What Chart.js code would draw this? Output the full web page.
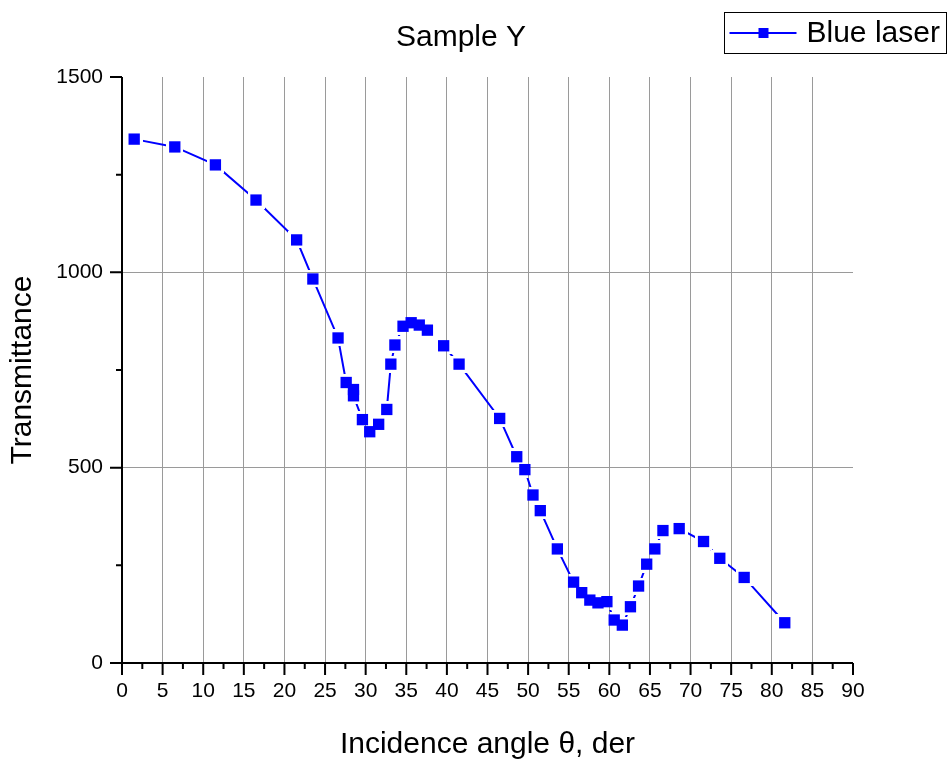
<!DOCTYPE html>
<html>
<head>
<meta charset="utf-8">
<title>Sample Y</title>
<script src="https://cdn.jsdelivr.net/npm/chart.js@4.4.1/dist/chart.umd.min.js"></script>
<style>
    html, body { margin: 0; padding: 0; background: #fff; }
    #wrap { width: 948px; height: 760px; position: relative; }
</style>
</head>
<body>
<div id="wrap"><canvas id="sampleChart"></canvas></div>
<script>
// Data
const angles = [1.5, 6.5, 11.5, 16.5, 21.5, 23.5, 26.6, 27.6, 28.5, 28.5, 29.6, 30.5, 31.6, 32.6, 33.1,
    33.6, 34.6, 35.6, 36.6, 37.6, 39.6, 41.5, 46.5, 48.6, 49.6, 50.6, 51.5, 53.6, 55.6, 56.6, 57.6,
    58.6, 59.7, 60.6, 61.6, 62.6, 63.6, 64.6, 65.6, 66.6, 68.6, 71.6, 73.6, 76.6, 81.6];
const transmittance = [1341, 1321, 1275, 1185, 1083, 983, 832, 718, 700, 684, 623, 592, 611, 649, 765,
    814, 862, 871, 865, 852, 812, 765, 626, 528, 495, 430, 390, 292, 207, 180, 161,
    154, 157, 110, 97, 144, 197, 253, 292, 339, 344, 311, 268, 219, 103];
const xTicks = [0, 5, 10, 15, 20, 25, 30, 35, 40, 45, 50, 55, 60, 65, 70, 75, 80, 85, 90];
const yTicks = [0, 500, 1000, 1500];

const chartTitle = 'Sample Y';
const seriesName = 'Blue laser';
const blue = '#0000ff';
const gridGrey = '#9a9a9a';
const FONT = '"Liberation Sans", Arial, sans-serif';

// Origin-style line: segments stop short of the markers
const gappedLine = {
    id: 'gappedLine',
    beforeDatasetsDraw(chart) {
        const pts = chart.getDatasetMeta(0).data;
        const dpr = chart.currentDevicePixelRatio;
        const off = document.createElement('canvas');
        off.width = chart.canvas.width;
        off.height = chart.canvas.height;
        const o = off.getContext('2d');
        o.setTransform(dpr, 0, 0, dpr, 0, 0);
        o.strokeStyle = blue;
        o.lineWidth = 2;
        o.beginPath();
        pts.forEach((p, i) => i ? o.lineTo(p.x, p.y) : o.moveTo(p.x, p.y));
        o.stroke();
        const h = 8.5;
        pts.forEach(p => o.clearRect(p.x - h, p.y - h, 2 * h, 2 * h));
        const ctx = chart.ctx;
        ctx.save();
        ctx.setTransform(1, 0, 0, 1, 0, 0);
        ctx.drawImage(off, 0, 0);
        ctx.restore();
    }
};

// Axis lines with major and minor outward ticks
const axesTicks = {
    id: 'axesTicks',
    afterDraw(chart) {
        const {ctx, chartArea: a, scales: {x, y}} = chart;
        ctx.save();
        ctx.strokeStyle = '#000';
        ctx.lineWidth = 2;
        ctx.beginPath();
        ctx.moveTo(a.left, a.top);
        ctx.lineTo(a.left, a.bottom);
        ctx.moveTo(a.left, a.bottom);
        ctx.lineTo(a.right, a.bottom);
        const major = 12, minor = 6;
        xTicks.forEach((v, i) => {
            const px = x.getPixelForValue(v);
            ctx.moveTo(px, a.bottom);
            ctx.lineTo(px, a.bottom + major);
            if (i < xTicks.length - 1) {
                const mx = x.getPixelForValue((v + xTicks[i + 1]) / 2);
                ctx.moveTo(mx, a.bottom);
                ctx.lineTo(mx, a.bottom + minor);
            }
        });
        yTicks.forEach((v, i) => {
            const py = y.getPixelForValue(v);
            ctx.moveTo(a.left, py);
            ctx.lineTo(a.left - major, py);
            if (i < yTicks.length - 1) {
                const my = y.getPixelForValue((v + yTicks[i + 1]) / 2);
                ctx.moveTo(a.left, my);
                ctx.lineTo(a.left - minor, my);
            }
        });
        ctx.stroke();
        ctx.restore();
    }
};

// Title and boxed legend along the top
const header = {
    id: 'header',
    afterDraw(chart) {
        const ctx = chart.ctx;
        ctx.save();
        ctx.fillStyle = '#000';
        ctx.font = '30px ' + FONT;
        ctx.textBaseline = 'middle';
        ctx.textAlign = 'center';
        ctx.fillText(chartTitle, 461, 38);

        const right = chart.width - 1.5, left = right - 222, top = 12.5, bottom = 53.5;
        const cy = (top + bottom) / 2;
        ctx.strokeStyle = '#000';
        ctx.lineWidth = 1;
        ctx.strokeRect(left, top, right - left, bottom - top);
        ctx.strokeStyle = blue;
        ctx.lineWidth = 2;
        ctx.beginPath();
        ctx.moveTo(left + 5, cy);
        ctx.lineTo(left + 72, cy);
        ctx.stroke();
        ctx.fillStyle = blue;
        ctx.fillRect(left + 34, cy - 5, 10, 10);
        ctx.fillStyle = '#000';
        ctx.textAlign = 'left';
        ctx.fillText(seriesName, left + 82, cy + 1);
        ctx.restore();
    }
};

const ctx = document.getElementById('sampleChart').getContext('2d');
new Chart(ctx, {
    type: 'scatter',
    data: {
        datasets: [{
            label: seriesName,
            data: angles.map((a, i) => ({x: a, y: transmittance[i]})),
            showLine: false,
            pointStyle: 'rect',
            pointRadius: 8,
            pointHoverRadius: 8,
            pointBorderWidth: 0,
            backgroundColor: blue,
            borderColor: blue
        }]
    },
    options: {
        responsive: true,
        maintainAspectRatio: false,
        animation: false,
        layout: { padding: { left: 0, right: 95, top: 77, bottom: 0 } },
        plugins: {
            legend: { display: false },
            tooltip: { enabled: false },
            title: { display: false }
        },
        scales: {
            x: {
                type: 'linear',
                min: 0,
                max: 90,
                afterFit: s => { s.height = 97; },
                afterBuildTicks: s => { s.ticks = xTicks.map(v => ({value: v})); },
                border: { display: false },
                grid: {
                    drawTicks: false,
                    lineWidth: 1,
                    color: c => (c.tick && (c.tick.value === 0 || c.tick.value === 90)) ? 'rgba(0,0,0,0)' : gridGrey
                },
                ticks: {
                    color: '#000',
                    padding: 16,
                    maxRotation: 0,
                    autoSkip: false,
                    callback: v => String(v),
                    font: { family: FONT, size: 21 }
                },
                title: {
                    display: true,
                    text: 'Incidence angle θ, der',
                    color: '#000',
                    font: { family: FONT, size: 30, lineHeight: 1 },
                    padding: { top: 0, bottom: 0 }
                }
            },
            y: {
                type: 'linear',
                min: 0,
                max: 1500,
                afterFit: s => { s.width = 122; },
                afterBuildTicks: s => { s.ticks = yTicks.map(v => ({value: v})); },
                border: { display: false },
                grid: {
                    drawTicks: false,
                    lineWidth: 1,
                    color: c => (c.tick && (c.tick.value === 0 || c.tick.value === 1500)) ? 'rgba(0,0,0,0)' : gridGrey
                },
                ticks: {
                    color: '#000',
                    padding: 19,
                    callback: v => String(v),
                    font: { family: FONT, size: 21 }
                },
                title: {
                    display: true,
                    text: 'Transmittance',
                    color: '#000',
                    font: { family: FONT, size: 30, lineHeight: 1 },
                    padding: { top: 8, bottom: 0 }
                }
            }
        }
    },
    plugins: [gappedLine, axesTicks, header]
});
</script>
</body>
</html>
